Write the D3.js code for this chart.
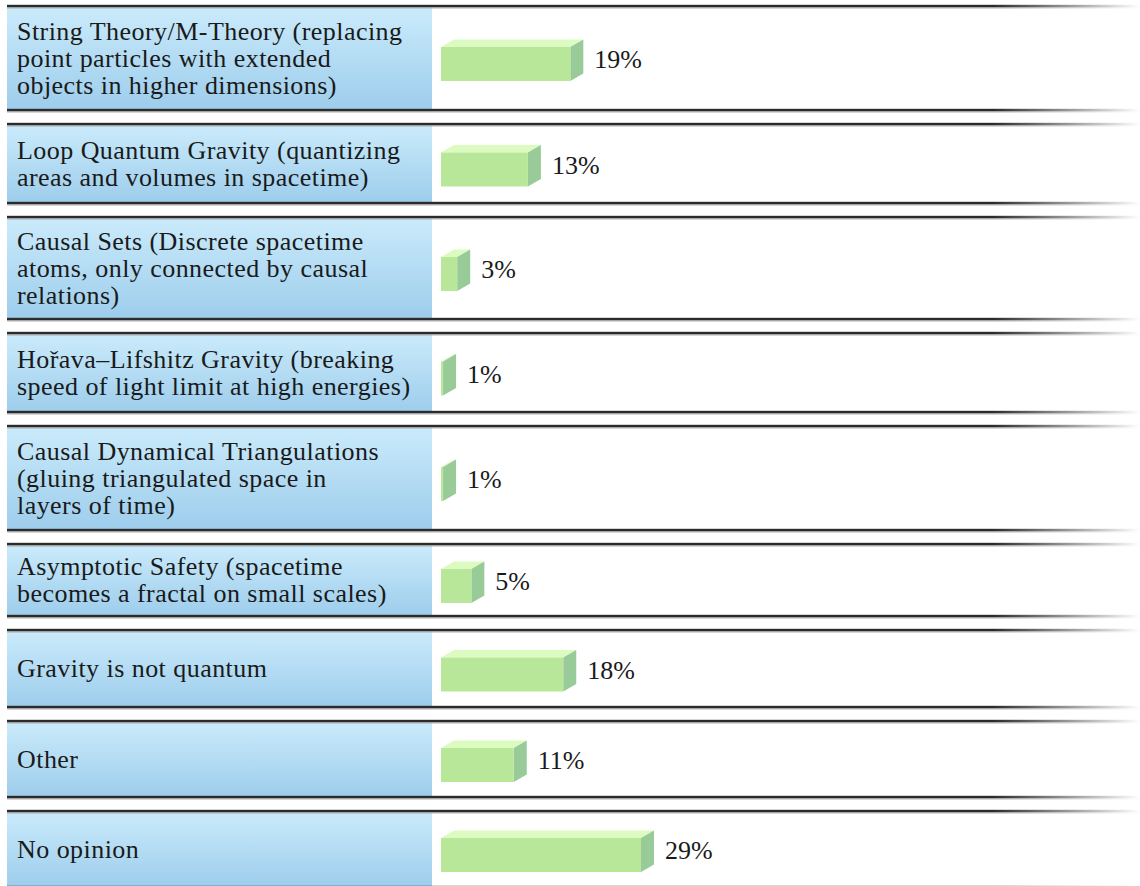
<!DOCTYPE html>
<html>
<head>
<meta charset="utf-8">
<script src="https://cdn.jsdelivr.net/npm/d3@7"></script>
<style>
  body { margin: 0; background: #fff; }
  text { font-family: "Liberation Serif", "DejaVu Serif", serif; fill: #1a1a1a; }
</style>
</head>
<body>
<div id="chart"></div>
<script>
const width = 1140;
const height = 886;

// data
const labels = [
  ["String Theory/M-Theory (replacing", "point particles with extended", "objects in higher dimensions)"],
  ["Loop Quantum Gravity (quantizing", "areas and volumes in spacetime)"],
  ["Causal Sets (Discrete spacetime", "atoms, only connected by causal", "relations)"],
  ["Hořava–Lifshitz Gravity (breaking", "speed of light limit at high energies)"],
  ["Causal Dynamical Triangulations", "(gluing triangulated space in", "layers of time)"],
  ["Asymptotic Safety (spacetime", "becomes a fractal on small scales)"],
  ["Gravity is not quantum"],
  ["Other"],
  ["No opinion"]
];
const values = [19, 13, 3, 1, 1, 5, 18, 11, 29];

// layout
const rowHeights = [104, 79, 102, 79, 104, 72, 77, 76, 76];
const rowGap = 14;
const firstTop = 6;
const cellLeft = 7, cellRight = 432;
const barX = 441;
const depthX = 13, depthY = 7.5;
const frontH = 34;
const lineH = 27;

let tops = [];
let acc = firstTop;
rowHeights.forEach(h => { tops.push(acc); acc += h + rowGap; });

const rows = values.map((v, i) => ({
  value: v, lines: labels[i], top: tops[i], h: rowHeights[i]
}));

const xScale = d3.scaleLinear()
  .domain([0, 29])
  .range([barX - 5, barX + 200]);

const svg = d3.select("#chart")
  .append("svg")
  .attr("width", width)
  .attr("height", height);

const defs = svg.append("defs");

const blue = defs.append("linearGradient")
  .attr("id", "blueGrad")
  .attr("x1", 0).attr("y1", 0).attr("x2", 0).attr("y2", 1);
blue.append("stop").attr("offset", "0%").attr("stop-color", "#cbebfb");
blue.append("stop").attr("offset", "100%").attr("stop-color", "#9dcdec");

function fadeGrad(id, color) {
  const g = defs.append("linearGradient")
    .attr("id", id)
    .attr("gradientUnits", "userSpaceOnUse")
    .attr("x1", cellLeft).attr("y1", 0).attr("x2", width).attr("y2", 0);
  g.append("stop").attr("offset", "0%").attr("stop-color", color).attr("stop-opacity", 1);
  g.append("stop").attr("offset", "0.87").attr("stop-color", color).attr("stop-opacity", 1);
  g.append("stop").attr("offset", "100%").attr("stop-color", color).attr("stop-opacity", 0);
}
fadeGrad("lineFade", "#2b2b2b");
fadeGrad("lineFadeLight", "#9a9a9a");

const row = svg.selectAll("g.row")
  .data(rows)
  .enter()
  .append("g")
  .attr("class", "row");

// blue label cell
row.append("rect")
  .attr("x", cellLeft)
  .attr("y", d => d.top)
  .attr("width", cellRight - cellLeft)
  .attr("height", d => d.h)
  .style("fill", "url(#blueGrad)");

// rule lines at top and bottom of each row
["top", "bottom"].forEach(pos => {
  row.append("rect")
    .attr("x", cellLeft)
    .attr("y", d => (pos === "top" ? d.top : d.top + d.h) - 1.2)
    .attr("width", width - cellLeft)
    .attr("height", 2.4)
    .style("fill", "url(#lineFade)");
  row.append("rect")
    .attr("x", cellLeft)
    .attr("y", d => (pos === "top" ? d.top : d.top + d.h) + 1.2)
    .attr("width", width - cellLeft)
    .attr("height", 1.2)
    .style("fill", "url(#lineFadeLight)");
});

// label text
row.each(function(d) {
  const g = d3.select(this);
  const cy = d.top + d.h / 2 + 1;
  const n = d.lines.length;
  g.selectAll("text.label")
    .data(d.lines)
    .enter()
    .append("text")
    .attr("class", "label")
    .attr("x", 17)
    .attr("y", (t, i) => cy + (i - (n - 1) / 2) * lineH)
    .attr("dy", "0.3em")
    .style("font-size", "26px")
    .style("letter-spacing", "0.45px")
    .text(t => t);
});

// 3d bars
const frontTop = d => d.top + d.h / 2 + 6 - frontH / 2;

row.append("polygon")
  .attr("points", d => {
    const x1 = xScale(d.value), y = frontTop(d);
    return [[barX, y], [barX + depthX, y - depthY], [x1 + depthX, y - depthY], [x1, y]].join(" ");
  })
  .style("fill", "#dcfbc1");

row.append("polygon")
  .attr("points", d => {
    const x1 = xScale(d.value), y = frontTop(d);
    return [[x1, y], [x1 + depthX, y - depthY], [x1 + depthX, y - depthY + frontH], [x1, y + frontH]].join(" ");
  })
  .style("fill", "#98cb98");

row.append("rect")
  .attr("x", barX)
  .attr("y", d => frontTop(d))
  .attr("width", d => Math.max(0, xScale(d.value) - barX))
  .attr("height", frontH)
  .style("fill", "#b9e79a");

// value labels
row.append("text")
  .attr("x", d => xScale(d.value) + depthX + 11)
  .attr("y", d => frontTop(d) + frontH / 2 - 5)
  .attr("dy", "0.35em")
  .style("font-size", "26px")
  .text(d => d.value + "%");
</script>
</body>
</html>
